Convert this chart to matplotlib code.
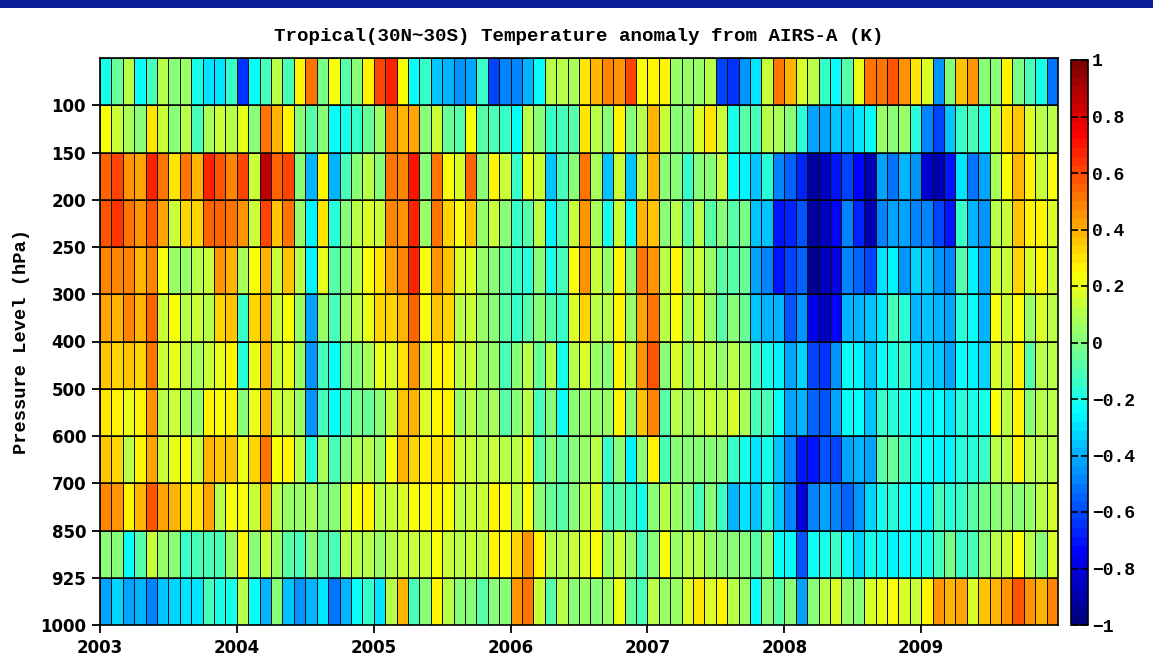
import numpy as np
import matplotlib
matplotlib.use("Agg")
import matplotlib.pyplot as plt
from matplotlib.patches import Rectangle
from matplotlib.colors import LinearSegmentedColormap

# pressure level labels (bottom to top) and years on the time axis
level_labels = ["1000", "925", "850", "700", "600", "500", "400", "300", "250", "200", "150", "100"]
years = [2003, 2004, 2005, 2006, 2007, 2008, 2009]
cbar_ticks = [-1, -0.8, -0.6, -0.4, -0.2, 0, 0.2, 0.4, 0.6, 0.8, 1]
cbar_labels = ["\u22121", "\u22120.8", "\u22120.6", "\u22120.4", "\u22120.2", "0", "0.2", "0.4", "0.6", "0.8", "1"]

# monthly anomalies (K), one list per layer, Jan 2003 .. Dec 2009
lev_top = [-0.2, -0.05, 0.1, -0.25, -0.1, 0.12, 0.02, 0.05, -0.2, -0.3, -0.3, -0.15,
           -0.65, -0.25, -0.1, 0.12, -0.12, 0.25, 0.5, -0.02, 0.22, -0.08, 0.02, 0.27,
           0.62, 0.68, 0.22, -0.25, -0.15, -0.35, -0.38, -0.45, -0.43, -0.15, -0.6, -0.47,
           -0.48, -0.38, -0.25, 0.12, 0.12, 0.08, 0.3, 0.38, 0.47, 0.45, 0.6, 0.22,
           0.27, 0.25, 0.05, 0.05, 0.05, 0.1, -0.6, -0.65, -0.45, -0.3, 0.15, 0.5,
           0.38, 0.17, 0.1, -0.15, -0.22, -0.08, 0.2, 0.53, 0.5, 0.58, 0.45, 0.3,
           0.17, -0.45, 0.02, 0.35, 0.45, 0.03, 0.03, 0.25, -0.03, -0.1, -0.2, -0.53]
lev_100 = [0.22, 0.15, 0.08, 0.0, 0.3, 0.13, 0.0, 0.12, -0.1, 0.08, 0.13, 0.12,
           0.2, 0.03, 0.5, 0.4, 0.25, 0.0, -0.08, 0.0, -0.22, -0.2, -0.15, -0.05,
           0.05, 0.48, 0.4, 0.43, 0.02, 0.15, -0.05, -0.07, 0.22, -0.08, -0.1, -0.15,
           -0.25, 0.12, 0.03, -0.15, -0.12, -0.08, 0.3, 0.1, 0.02, 0.25, 0.03, 0.12,
           0.4, 0.15, 0.03, 0.03, 0.18, 0.3, 0.15, -0.2, -0.08, -0.1, 0.12, 0.07,
           0.02, -0.18, -0.42, -0.42, -0.35, -0.37, -0.3, -0.25, 0.05, 0.0, 0.05, -0.18,
           -0.47, -0.62, -0.37, -0.15, -0.12, -0.2, 0.12, 0.3, 0.35, 0.17, 0.12, 0.12]
lev_150 = [0.56, 0.61, 0.45, 0.42, 0.67, 0.5, 0.3, 0.53, 0.39, 0.67, 0.58, 0.48,
           0.62, 0.15, 0.87, 0.55, 0.6, 0.02, -0.38, 0.25, -0.38, -0.12, 0.02, 0.1,
           0.03, 0.52, 0.47, 0.69, 0.03, 0.52, 0.22, 0.17, 0.55, 0.03, 0.26, 0.15,
           -0.15, 0.2, 0.15, -0.35, -0.1, 0.02, 0.52, 0.08, -0.35, 0.15, -0.35, 0.1,
           0.38, 0.03, 0.0, -0.15, 0.03, 0.03, 0.15, -0.25, -0.27, -0.37, -0.17, -0.5,
           -0.55, -0.68, -0.93, -0.85, -0.7, -0.6, -0.72, -0.88, -0.42, -0.53, -0.4, -0.45,
           -0.82, -0.88, -0.7, -0.3, -0.52, -0.43, 0.08, 0.22, 0.4, 0.27, 0.15, 0.22]
lev_200 = [0.58, 0.63, 0.5, 0.45, 0.58, 0.43, 0.15, 0.33, 0.33, 0.56, 0.56, 0.5,
           0.45, 0.15, 0.6, 0.35, 0.52, 0.05, -0.27, 0.3, -0.18, 0.0, 0.1, 0.17,
           0.14, 0.49, 0.45, 0.68, 0.05, 0.5, 0.32, 0.22, 0.35, 0.05, 0.15, 0.03,
           -0.15, -0.08, 0.12, -0.28, -0.1, 0.13, 0.45, 0.08, -0.2, 0.13, -0.22, 0.38,
           0.35, 0.03, 0.12, -0.07, 0.12, -0.07, 0.03, -0.07, -0.03, -0.35, -0.37, -0.7,
           -0.68, -0.57, -0.93, -0.85, -0.72, -0.5, -0.68, -0.88, -0.47, -0.42, -0.42, -0.47,
           -0.48, -0.62, -0.7, -0.15, -0.38, -0.45, 0.12, 0.15, 0.35, 0.27, 0.25, 0.17]
lev_250 = [0.47, 0.48, 0.48, 0.4, 0.48, 0.22, 0.05, 0.05, 0.1, 0.15, 0.45, 0.4,
           0.08, 0.22, 0.38, 0.15, 0.37, 0.1, -0.27, 0.2, -0.08, 0.03, 0.1, 0.22,
           0.3, 0.42, 0.47, 0.66, 0.22, 0.45, 0.35, 0.17, 0.18, 0.05, 0.03, -0.07,
           -0.15, -0.18, 0.03, -0.2, -0.1, 0.22, 0.45, 0.13, 0.05, 0.28, 0.03, 0.52,
           0.45, 0.12, 0.27, 0.05, 0.15, 0.05, -0.07, -0.07, -0.05, -0.42, -0.48, -0.7,
           -0.62, -0.55, -0.95, -0.85, -0.8, -0.48, -0.55, -0.62, -0.3, -0.28, -0.45, -0.33,
           -0.37, -0.45, -0.5, -0.08, -0.27, -0.42, 0.15, 0.15, 0.33, 0.17, 0.28, 0.13]
lev_300 = [0.43, 0.38, 0.48, 0.4, 0.55, 0.15, 0.22, 0.1, 0.13, 0.12, 0.33, 0.35,
           -0.13, 0.33, 0.38, 0.15, 0.23, 0.05, -0.42, 0.05, -0.12, 0.05, 0.1, 0.2,
           0.32, 0.32, 0.38, 0.55, 0.22, 0.35, 0.32, 0.12, 0.13, 0.05, 0.03, -0.07,
           -0.15, -0.08, 0.02, -0.08, -0.15, 0.17, 0.33, 0.12, 0.1, 0.25, 0.05, 0.42,
           0.5, 0.12, 0.23, 0.05, 0.17, 0.05, -0.07, 0.0, -0.05, -0.35, -0.38, -0.4,
           -0.57, -0.45, -0.78, -0.85, -0.72, -0.38, -0.4, -0.35, -0.3, -0.1, -0.18, -0.38,
           -0.35, -0.4, -0.42, -0.17, -0.25, -0.38, 0.22, 0.15, 0.22, 0.05, 0.17, 0.12]
lev_400 = [0.37, 0.33, 0.37, 0.33, 0.5, 0.13, 0.2, 0.1, 0.07, 0.15, 0.2, 0.25,
           -0.18, 0.2, 0.4, 0.15, 0.2, 0.05, -0.45, -0.1, -0.22, -0.03, 0.03, 0.08,
           0.2, 0.17, 0.3, 0.45, 0.15, 0.25, 0.27, 0.1, 0.13, 0.05, 0.05, -0.1,
           0.0, 0.1, -0.05, 0.1, -0.2, 0.12, 0.17, 0.05, 0.03, 0.28, 0.1, 0.45,
           0.57, 0.03, 0.17, 0.05, 0.15, 0.12, 0.05, 0.12, 0.05, -0.15, -0.2, -0.27,
           -0.42, -0.33, -0.6, -0.65, -0.45, -0.25, -0.28, -0.37, -0.25, -0.2, -0.15, -0.3,
           -0.33, -0.37, -0.42, -0.25, -0.28, -0.33, 0.17, 0.12, 0.28, -0.07, 0.12, 0.1]
lev_500 = [0.3, 0.25, 0.2, 0.28, 0.45, 0.1, 0.13, 0.08, 0.05, 0.25, 0.24, 0.25,
           0.03, 0.2, 0.4, 0.15, 0.15, 0.05, -0.45, -0.1, -0.25, -0.1, -0.02, -0.05,
           0.03, 0.15, 0.35, 0.4, 0.17, 0.25, 0.25, 0.05, 0.12, 0.05, 0.08, -0.08,
           0.02, 0.12, -0.12, 0.0, -0.22, 0.0, 0.05, 0.05, 0.05, 0.25, 0.03, 0.35,
           0.47, -0.07, 0.12, 0.05, 0.12, 0.13, 0.12, 0.17, 0.07, -0.1, -0.1, -0.25,
           -0.42, -0.4, -0.55, -0.57, -0.43, -0.25, -0.25, -0.35, -0.15, -0.18, -0.2, -0.25,
           -0.28, -0.25, -0.3, -0.17, -0.2, -0.2, 0.22, 0.1, 0.28, 0.0, 0.1, 0.12]
lev_600 = [0.35, 0.33, 0.12, 0.25, 0.43, 0.15, 0.2, 0.22, 0.15, 0.4, 0.35, 0.35,
           0.2, 0.33, 0.53, 0.22, 0.27, 0.1, -0.17, 0.08, -0.1, 0.02, 0.08, 0.12,
           0.05, 0.22, 0.38, 0.33, 0.27, 0.3, 0.3, 0.15, 0.13, 0.12, 0.15, 0.12,
           0.12, 0.2, -0.08, 0.0, -0.08, 0.0, 0.05, 0.12, -0.15, 0.0, -0.28, 0.0,
           0.25, -0.1, 0.02, 0.0, 0.02, 0.03, 0.03, -0.13, -0.2, -0.3, -0.2, -0.35,
           -0.5, -0.7, -0.7, -0.57, -0.6, -0.43, -0.38, -0.42, -0.08, -0.05, -0.15, -0.2,
           -0.25, -0.27, -0.28, -0.17, -0.17, -0.15, 0.12, 0.1, 0.25, 0.1, 0.1, 0.1]
lev_700 = [0.48, 0.45, 0.25, 0.38, 0.57, 0.43, 0.38, 0.3, 0.3, 0.43, 0.1, 0.22,
           0.23, 0.15, 0.38, 0.12, 0.05, 0.05, 0.08, 0.03, 0.03, 0.15, 0.22, 0.25,
           0.12, 0.15, 0.17, 0.22, 0.22, 0.28, 0.22, 0.12, 0.13, 0.15, 0.28, 0.22,
           0.12, 0.23, 0.03, -0.05, -0.08, 0.02, 0.1, 0.17, -0.1, -0.08, -0.13, -0.2,
           0.03, 0.12, 0.05, 0.03, -0.1, 0.03, -0.15, -0.38, -0.3, -0.35, -0.18, -0.35,
           -0.48, -0.8, -0.5, -0.42, -0.47, -0.55, -0.45, -0.33, -0.2, -0.18, -0.25, -0.25,
           -0.28, -0.1, -0.17, -0.15, -0.08, -0.03, 0.02, 0.05, 0.03, 0.05, 0.12, 0.17]
lev_850 = [0.0, 0.0, -0.25, -0.07, 0.15, 0.05, 0.0, -0.15, -0.1, -0.12, -0.1, 0.05,
           0.25, 0.0, 0.13, 0.05, -0.07, -0.1, 0.0, -0.08, -0.12, 0.1, 0.12, 0.12,
           0.05, 0.12, 0.15, 0.15, 0.15, 0.22, 0.15, 0.12, 0.13, 0.12, 0.27, 0.24,
           0.33, 0.45, 0.27, 0.1, 0.1, 0.13, 0.17, 0.23, 0.05, 0.13, 0.05, -0.1,
           0.03, 0.22, 0.05, 0.1, 0.1, 0.05, 0.03, 0.03, 0.03, -0.07, 0.02, -0.25,
           -0.25, -0.57, -0.25, -0.2, -0.15, -0.25, -0.32, -0.2, -0.25, -0.27, -0.25, -0.22,
           -0.2, -0.1, -0.03, -0.15, -0.1, 0.0, 0.1, 0.15, 0.23, 0.12, 0.03, 0.17]
lev_925 = [-0.42, -0.33, -0.42, -0.4, -0.5, -0.35, -0.33, -0.3, -0.3, -0.12, -0.2, -0.2,
           0.1, -0.22, -0.38, 0.0, -0.35, -0.45, -0.38, -0.3, -0.52, -0.38, -0.25, -0.15,
           -0.3, 0.1, 0.38, -0.1, 0.03, 0.27, 0.1, 0.03, 0.03, -0.07, 0.03, 0.03,
           0.45, 0.52, 0.13, -0.08, 0.12, 0.03, 0.05, 0.02, 0.05, 0.2, -0.05, -0.12,
           0.12, 0.05, 0.05, 0.17, 0.3, 0.18, 0.28, 0.1, 0.05, -0.22, 0.03, -0.07,
           0.03, -0.42, 0.0, 0.1, 0.18, 0.05, 0.03, 0.17, 0.2, 0.23, 0.17, 0.15,
           0.27, 0.45, 0.38, 0.42, 0.18, 0.35, 0.4, 0.45, 0.57, 0.45, 0.38, 0.47]

# stack bottom layer first so row index grows upward
anom = np.array([lev_925, lev_850, lev_700, lev_600, lev_500, lev_400,
                 lev_300, lev_250, lev_200, lev_150, lev_100, lev_top])

x_edges = years[0] + np.arange(anom.shape[1] + 1) / 12.0
y_edges = np.arange(anom.shape[0] + 1)

# MATLAB-style jet (yellow at 0.625, red at 0.875), 64 steps
mjet = LinearSegmentedColormap("mjet", {
    "red": [(0, 0, 0), (0.375, 0, 0), (0.625, 1, 1), (0.875, 1, 1), (1, 0.5, 0.5)],
    "green": [(0, 0, 0), (0.125, 0, 0), (0.375, 1, 1), (0.625, 1, 1), (0.875, 0, 0), (1, 0, 0)],
    "blue": [(0, 0.5, 0.5), (0.125, 1, 1), (0.375, 1, 1), (0.625, 0, 0), (1, 0, 0)],
}, N=64)

W, H = 1153, 657
fig = plt.figure(figsize=(W / 100, H / 100), dpi=100)
fig.patches.append(Rectangle((0, 1 - 8 / H), 1, 8 / H, transform=fig.transFigure,
                             facecolor="#0a1f9c", edgecolor="none", zorder=0))

ax = fig.add_axes([100 / W, 32 / H, 958 / W, 567 / H])
mesh = ax.pcolormesh(x_edges, y_edges, anom, cmap=mjet, vmin=-1, vmax=1,
                     edgecolors="#111111", linewidth=0.6)
for yb in y_edges[1:-1]:
    ax.axhline(yb, color="k", linewidth=1.1)

ax.set_xlim(x_edges[0], x_edges[-1])
ax.set_ylim(0, 12)
ax.set_xticks(years)
ax.set_xticklabels([str(y) for y in years], fontsize=12, fontweight="bold", family="DejaVu Sans")
ax.set_yticks(range(len(level_labels)))
ax.set_yticklabels(level_labels, fontsize=12, fontweight="bold", family="DejaVu Sans")
ax.tick_params(axis="both", direction="out", length=6, width=1.3, pad=4)
for s in ax.spines.values():
    s.set_linewidth(1.2)

mono = ["Liberation Mono", "DejaVu Sans Mono"]
ax.set_title("Tropical(30N~30S) Temperature anomaly from AIRS-A (K)",
             fontsize=13.8, fontweight="bold", family=mono, pad=12)
ax.set_ylabel("Pressure Level (hPa)", fontsize=13.5, fontweight="bold", family=mono)
ax.yaxis.set_label_coords(-0.073, 0.5)

cax = fig.add_axes([1071 / W, 32 / H, 17 / W, 565 / H])
cb = fig.colorbar(mesh, cax=cax, ticks=cbar_ticks)
cb.ax.set_yticklabels(cbar_labels, fontsize=13, fontweight="bold", family=mono)
cb.ax.tick_params(direction="in", left=True, right=True, length=5, width=1.2, pad=3)
cb.outline.set_linewidth(1.2)

fig.savefig("out.png", dpi=100)
